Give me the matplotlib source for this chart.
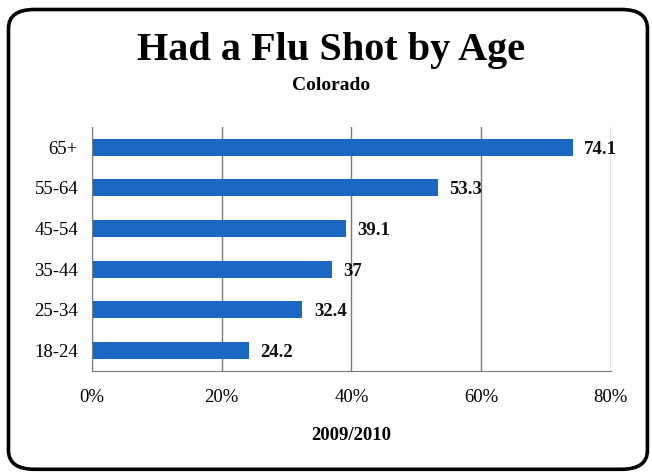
import matplotlib.pyplot as plt
from matplotlib.patches import FancyBboxPatch

plt.rcParams['font.family'] = ['Liberation Serif', 'DejaVu Serif']

ages = ["18-24", "25-34", "35-44", "45-54", "55-64", "65+"]
pct = [24.2, 32.4, 37, 39.1, 53.3, 74.1]
value_labels = ["24.2", "32.4", "37", "39.1", "53.3", "74.1"]
xticks = [0, 20, 40, 60, 80]

fig = plt.figure(figsize=(6.52, 4.75), dpi=100)

# rounded frame around the whole graphic
frame = FancyBboxPatch((0.013, 0.012), 0.98, 0.968,
                       boxstyle="round,pad=0,rounding_size=0.04",
                       transform=fig.transFigure, facecolor="none",
                       edgecolor="black", linewidth=2.6, zorder=5)
fig.patches.append(frame)

ax = fig.add_axes([0.141, 0.219, 0.796, 0.514])
ax.set_facecolor("none")
ax.barh(range(len(ages)), pct, height=0.42, color="#1a68c4", zorder=2)

for i, (v, lab) in enumerate(zip(pct, value_labels)):
    ax.text(v + 1.8, i - 0.05, lab, va="center", ha="left",
            fontsize=13.5, fontweight="bold", color="#111111", zorder=3)

ax.set_xlim(0, 80)
ax.set_ylim(-0.5, 5.5)
ax.set_xticks(xticks)
ax.set_xticklabels([f"{t}%" for t in xticks], fontsize=13.5)
ax.set_yticks(range(len(ages)))
ax.set_yticklabels(ages, fontsize=13.5)
ax.tick_params(length=0, pad=10)
ax.tick_params(axis="x", pad=13)
ax.xaxis.grid(True, color="#7a7a7a", linewidth=1, zorder=1)
ax.set_axisbelow(True)
for s in ["top", "right"]:
    ax.spines[s].set_visible(False)
ax.spines["left"].set_color("#7a7a7a")
ax.spines["bottom"].set_color("#7a7a7a")

ax.set_xlabel("2009/2010", fontsize=13.5, fontweight="bold", labelpad=15)

fig.text(0.508, 0.893, "Had a Flu Shot by Age", ha="center", va="center",
         fontsize=29, fontweight="bold")
fig.text(0.508, 0.82, "Colorado", ha="center", va="center",
         fontsize=14, fontweight="bold")

fig.savefig("out.png", dpi=100)
